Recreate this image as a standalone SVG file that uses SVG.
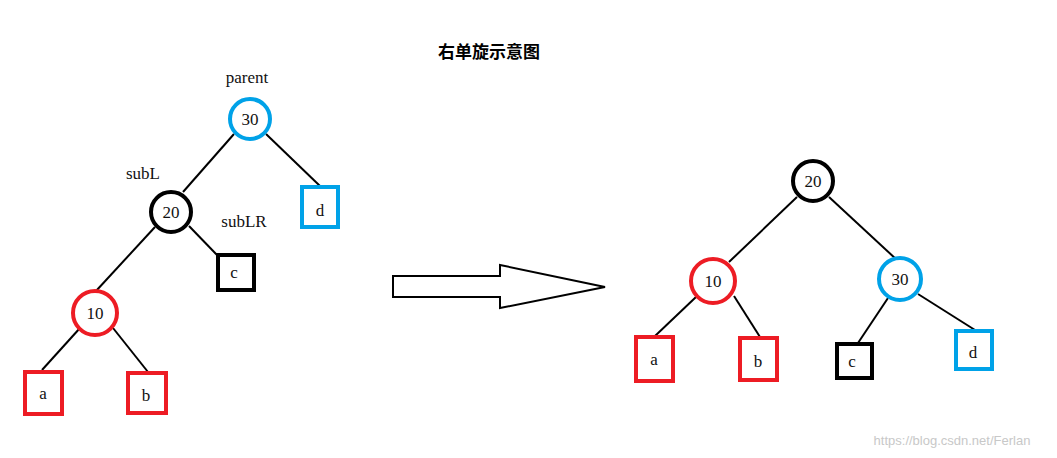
<svg xmlns="http://www.w3.org/2000/svg" width="1057" height="458" viewBox="0 0 1057 458">
<style>
.t{font-family:"Liberation Serif","DejaVu Serif",serif;font-size:17px;fill:#111;text-anchor:middle;dominant-baseline:central}
.c{fill:#fff;stroke-width:4}
.r{fill:#fff;stroke-width:4}
.red{stroke:#ed1c24}.blue{stroke:#00a2e8}.blk{stroke:#000}
.e line{stroke:#000;stroke-width:2}
</style>
<rect width="1057" height="458" fill="#fff"/>
<text x="489" y="50" font-family="Noto Sans CJK SC,sans-serif" font-weight="bold" font-size="17" text-anchor="middle" dominant-baseline="central">右单旋示意图</text>
<text class="t" x="247" y="77">parent</text>
<text class="t" x="143" y="173">subL</text>
<text class="t" x="244" y="221">subLR</text>
<g id="edges" class="e">
<line x1="234" y1="134" x2="183" y2="192"/>
<line x1="266" y1="134" x2="320" y2="186"/>
<line x1="189" y1="226" x2="217" y2="255"/>
<line x1="155" y1="227" x2="96" y2="291"/>
<line x1="80" y1="328" x2="42" y2="370"/>
<line x1="113" y1="328" x2="148" y2="372"/>
<line x1="797" y1="197" x2="729" y2="262"/>
<line x1="829" y1="197" x2="897" y2="260"/>
<line x1="696" y1="297" x2="655" y2="336"/>
<line x1="734" y1="296" x2="760" y2="337"/>
<line x1="888" y1="298" x2="858" y2="343"/>
<line x1="918" y1="294" x2="975" y2="330"/>
</g>
<g id="arrow"><polygon points="393,276 500,276 500,265 605,287 500,308 500,297 393,297" fill="#fff" stroke="#000" stroke-width="2"/></g>
<g id="L30"><circle class="c blue" cx="250" cy="119" r="20"/><text class="t" x="250" y="119">30</text></g>
<g id="L20"><circle class="c blk" cx="171" cy="212" r="20"/><text class="t" x="171" y="212">20</text></g>
<g id="L10"><circle class="c red" cx="95" cy="313" r="22"/><text class="t" x="95" y="313">10</text></g>
<g id="Ld"><rect class="r blue" x="302" y="187" width="36" height="40"/><text class="t" x="320" y="210">d</text></g>
<g id="Lc"><rect class="r blk" x="218" y="255" width="36" height="35"/><text class="t" x="234" y="272">c</text></g>
<g id="La"><rect class="r red" x="25" y="372" width="37" height="42"/><text class="t" x="43" y="393">a</text></g>
<g id="Lb"><rect class="r red" x="128" y="373" width="38" height="40"/><text class="t" x="146" y="395">b</text></g>
<g id="R20"><circle class="c blk" cx="813" cy="181" r="20"/><text class="t" x="813" y="181">20</text></g>
<g id="R10"><circle class="c red" cx="713" cy="281" r="22"/><text class="t" x="713" y="281">10</text></g>
<g id="R30"><circle class="c blue" cx="900" cy="279" r="21"/><text class="t" x="900" y="279">30</text></g>
<g id="Ra"><rect class="r red" x="636" y="337" width="37" height="44"/><text class="t" x="654" y="359">a</text></g>
<g id="Rb"><rect class="r red" x="740" y="338" width="37" height="42"/><text class="t" x="758" y="361">b</text></g>
<g id="Rc"><rect class="r blk" x="837" y="344" width="35" height="34"/><text class="t" x="852" y="361">c</text></g>
<g id="Rd"><rect class="r blue" x="956" y="331" width="36" height="38"/><text class="t" x="973" y="352">d</text></g>
<text x="952" y="440" font-family="Liberation Sans,sans-serif" font-size="13" fill="#c8c8c8" text-anchor="middle" dominant-baseline="central">https://blog.csdn.net/Ferlan</text>
</svg>
